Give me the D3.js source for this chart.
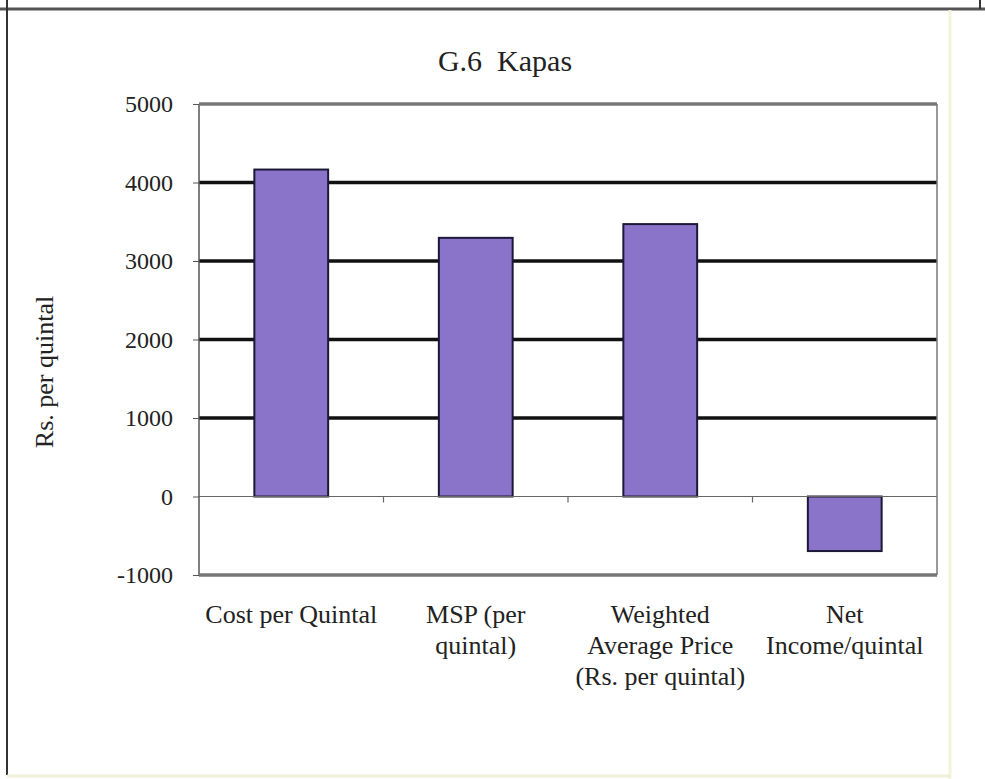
<!DOCTYPE html>
<html><head><meta charset="utf-8">
<script src="https://cdn.jsdelivr.net/npm/d3@7"></script>
<style>body{margin:0;background:#fff}svg{display:block}text{font-family:"Liberation Serif","Times New Roman",serif;fill:#222}</style>
</head><body>
<script>
const categories = [["Cost per Quintal"], ["MSP (per", "quintal)"], ["Weighted", "Average Price", "(Rs. per quintal)"], ["Net", "Income/quintal"]];
const values = [4165, 3295, 3470, -695];
const yTicks = [-1000, 0, 1000, 2000, 3000, 4000, 5000];
const title = "G.6  Kapas";
const yTitle = "Rs. per quintal";

const W = 985, H = 779;
const svg = d3.select("body").append("svg").attr("width", W).attr("height", H);

// outer frame
svg.append("line").attr("x1",0).attr("x2",W).attr("y1",9).attr("y2",9).attr("stroke","#555").attr("stroke-width",3);
svg.append("line").attr("x1",7).attr("x2",7).attr("y1",0).attr("y2",775).attr("stroke","#333").attr("stroke-width",2);
svg.append("line").attr("x1",980).attr("x2",980).attr("y1",0).attr("y2",9).attr("stroke","#333").attr("stroke-width",2);
svg.append("line").attr("x1",950).attr("x2",950).attr("y1",10).attr("y2",779).attr("stroke","#f3f3dc").attr("stroke-width",3);
svg.append("line").attr("x1",7).attr("x2",950).attr("y1",776).attr("y2",776).attr("stroke","#f0f0d8").attr("stroke-width",3);

const L = 199, R = 937, T = 104, B = 575;
const x = d3.scaleBand().domain(d3.range(categories.length)).range([L, R]).paddingInner(0.6).paddingOuter(0.3);
const y = d3.scaleLinear().domain([-1000, 5000]).range([B, T]);

// gridlines
svg.append("g").selectAll("line").data(yTicks.filter(v => v > 0 && v < 5000)).join("line")
  .attr("x1", L).attr("x2", R).attr("y1", d => y(d)).attr("y2", d => y(d))
  .attr("stroke", "#111").attr("stroke-width", 3.5);

// bars
svg.append("g").selectAll("rect").data(values).join("rect")
  .attr("x", (d,i) => x(i)).attr("width", x.bandwidth())
  .attr("y", d => y(Math.max(0,d))).attr("height", d => Math.abs(y(d) - y(0)))
  .attr("fill", "#8a74c9").attr("stroke", "#1c1838").attr("stroke-width", 2);

// zero line
svg.append("line").attr("x1", L).attr("x2", R).attr("y1", y(0)).attr("y2", y(0)).attr("stroke", "#666").attr("stroke-width", 1.2);
// category ticks on zero line
const step = (R - L) / categories.length;
svg.append("g").selectAll("line").data(d3.range(1, categories.length)).join("line")
  .attr("x1", d => L + d*step).attr("x2", d => L + d*step).attr("y1", y(0)).attr("y2", y(0)+6)
  .attr("stroke", "#666").attr("stroke-width", 1.2);

// plot borders
svg.append("line").attr("x1", L).attr("x2", L).attr("y1", T).attr("y2", B).attr("stroke", "#555").attr("stroke-width", 1.5);
svg.append("line").attr("x1", R).attr("x2", R).attr("y1", T).attr("y2", B).attr("stroke", "#777").attr("stroke-width", 1.5);
svg.append("line").attr("x1", L).attr("x2", R).attr("y1", T).attr("y2", T).attr("stroke", "#777").attr("stroke-width", 3.5);
svg.append("line").attr("x1", L).attr("x2", R).attr("y1", B).attr("y2", B).attr("stroke", "#777").attr("stroke-width", 3.5);

// y axis
const yAxis = svg.append("g").attr("transform", `translate(${L},0)`)
  .call(d3.axisLeft(y).tickValues(yTicks).tickSize(6).tickPadding(20).tickFormat(d => d < 0 ? "-" + Math.abs(d) : d));
yAxis.select(".domain").remove();
yAxis.selectAll("line").attr("stroke", "#555");
yAxis.selectAll("text").attr("font-size", 24).attr("font-family", '"Liberation Serif",serif').attr("fill", "#222");

// category labels
const lbl = svg.append("g").selectAll("text").data(categories).join("text")
  .attr("x", (d,i) => x(i) + x.bandwidth()/2).attr("y", 623)
  .attr("text-anchor", "middle").attr("font-size", 26);
lbl.selectAll("tspan").data(d => d).join("tspan")
  .attr("x", function(){ return this.parentNode.getAttribute("x"); })
  .attr("dy", (d,i) => i === 0 ? 0 : 31).text(d => d);

// title
svg.append("text").attr("x", 505).attr("y", 71).attr("text-anchor", "middle").attr("font-size", 30).attr("xml:space","preserve").text(title);
// y title
svg.append("text").attr("transform", "translate(53,372) rotate(-90)").attr("text-anchor", "middle").attr("font-size", 26).text(yTitle);
</script>
</body></html>
